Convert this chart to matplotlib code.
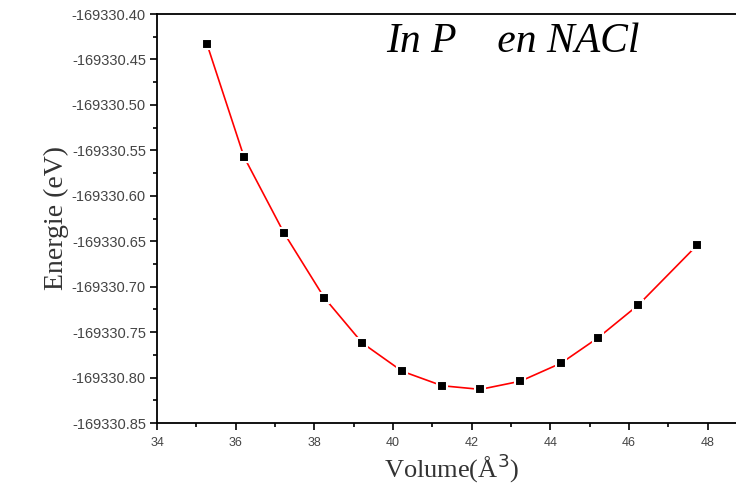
import matplotlib
matplotlib.use("Agg")
from matplotlib import pyplot as plt
from matplotlib.ticker import MultipleLocator, FormatStrFormatter
import numpy as np

# volume (A^3) and total energy (eV)
volume = [35.27, 36.21, 37.23, 38.25, 39.22, 40.23, 41.25, 42.22, 43.24, 44.28, 45.22, 46.24, 47.74]
energy = [-169330.433, -169330.557, -169330.641, -169330.712, -169330.762, -169330.793,
          -169330.809, -169330.813, -169330.804, -169330.784, -169330.756, -169330.720, -169330.654]

fig = plt.figure(figsize=(7.36, 4.86), dpi=100)
ax = fig.add_axes([157/736, 63/486, 590/736, 409/486])

# red line, markers with white edge to leave small gaps like Origin does
ax.plot(volume, energy, color='red', linewidth=1.2, marker='s', markersize=7,
        markerfacecolor='black', markeredgecolor='white', markeredgewidth=1.5)

ax.set_xlim(34, 49)
ax.set_ylim(-169330.85, -169330.40)
ax.xaxis.set_major_locator(MultipleLocator(2))
ax.xaxis.set_minor_locator(MultipleLocator(1))
ax.yaxis.set_major_locator(MultipleLocator(0.05))
ax.yaxis.set_minor_locator(MultipleLocator(0.025))
ax.yaxis.set_major_formatter(FormatStrFormatter('%.2f'))
ax.tick_params(which='major', direction='out', length=5, width=1.2, colors='black')
ax.tick_params(which='minor', direction='out', length=3, width=1.2)
ax.tick_params(axis='y', labelsize=10.5, pad=3)
ax.tick_params(axis='x', labelsize=9, pad=5)
for lab in ax.get_xticklabels() + ax.get_yticklabels():
    lab.set_fontfamily('Liberation Sans')
    lab.set_color('#444444')
for sp in ax.spines.values():
    sp.set_linewidth(1.3)

ax.set_xlabel('Volume(Å$^3$)', fontfamily='Liberation Serif', fontsize=19, color='#333333', labelpad=2)
ax.set_ylabel('Energie (eV)', fontfamily='Liberation Serif', fontsize=20, color='#333333', labelpad=2)

fig.text(386/736, 1 - 42/486, 'In P    en NACl', fontfamily='Liberation Serif', style='italic',
         fontsize=30, va='center', ha='left', color='black')

fig.savefig('out.png', dpi=100)
